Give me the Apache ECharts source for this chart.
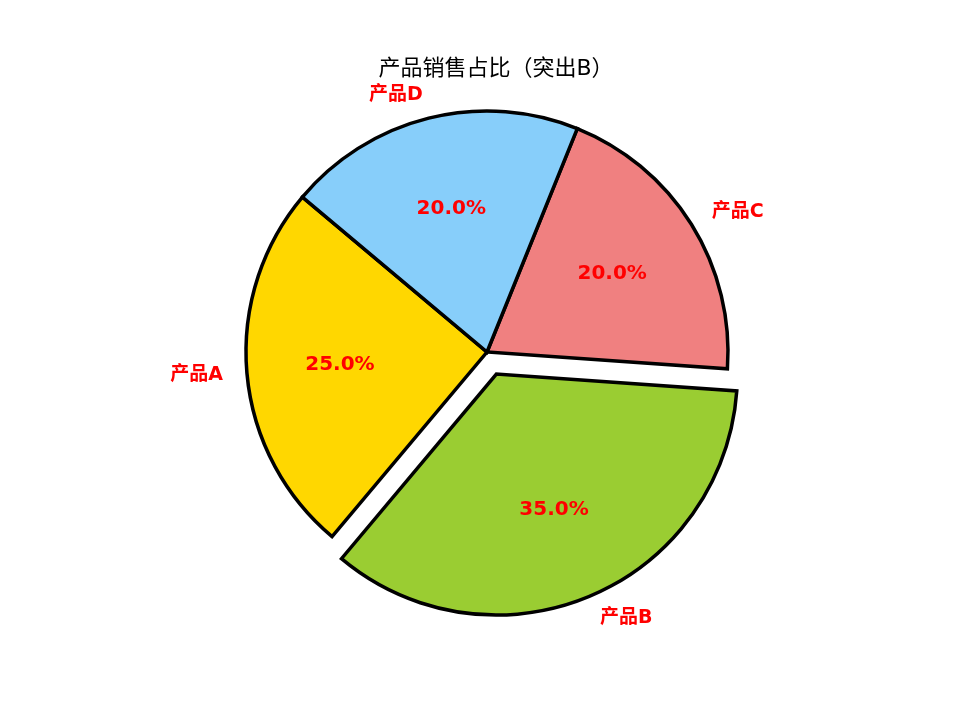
<!DOCTYPE html>
<html>
<head>
<meta charset="utf-8">
<script src="https://cdn.jsdelivr.net/npm/echarts@6/dist/echarts.min.js"></script>
<style>
  html, body { margin: 0; padding: 0; background: #fff; }
  #chart { width: 959px; height: 720px; }
</style>
</head>
<body>
<div id="chart"></div>
<script>
const categories = ['产品A', '产品B', '产品C', '产品D']
const values = [25, 35, 20, 20]
const highlighted = '产品B'

const font = "'DejaVu Sans', 'Noto Sans CJK SC', sans-serif"
const R = 241

const chart = echarts.init(document.getElementById('chart'))

const items = categories.map((name, i) => ({
  name,
  value: values[i],
  selected: name === highlighted
}))

chart.setOption({
  animation: false,
  color: ['#FFD700', '#9ACD32', '#F08080', '#87CEFA'],
  title: {
    text: '产品销售占比（突出B）',
    left: 491,
    top: 53,
    textAlign: 'center',
    textStyle: { fontFamily: font, fontSize: 22, fontWeight: 'normal', color: '#000' }
  },
  series: [
    {
      type: 'pie',
      center: [487, 352],
      radius: [0, R],
      startAngle: 140,
      clockwise: false,
      selectedMode: 'single',
      selectedOffset: 24,
      avoidLabelOverlap: false,
      silent: true,
      emphasis: { disabled: true },
      itemStyle: { borderColor: '#000', borderWidth: 3.5, borderJoin: 'miter' },
      label: {
        show: true,
        position: 'outside',
        distanceToLabelLine: 0,
        formatter: '{b}',
        color: '#ff0000',
        fontFamily: font,
        fontSize: 19,
        fontWeight: 'bold'
      },
      labelLine: { show: false, length: 24, length2: 0 },
      data: items
    },
    {
      type: 'pie',
      center: [487, 352],
      radius: [0, R * 1.2],
      startAngle: 140,
      clockwise: false,
      selectedMode: 'single',
      selectedOffset: 24,
      silent: true,
      z: 3,
      emphasis: { disabled: true },
      itemStyle: { color: 'rgba(0,0,0,0)', borderWidth: 0 },
      label: {
        show: true,
        position: 'inside',
        formatter: p => p.percent.toFixed(1) + '%',
        color: '#ff0000',
        fontFamily: font,
        fontSize: 20,
        fontWeight: 'bold'
      },
      labelLine: { show: false },
      data: items
    }
  ]
})
</script>
</body>
</html>
